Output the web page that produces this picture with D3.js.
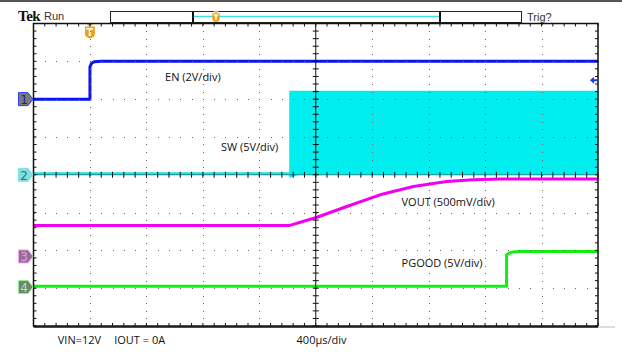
<!DOCTYPE html>
<html><head><meta charset="utf-8">
<script src="https://cdn.jsdelivr.net/npm/d3@7/dist/d3.min.js"></script>
<style>html,body{margin:0;padding:0;background:#fff;}svg{display:block;}</style>
</head><body>
<script>
// time in divisions (0..10), amplitude in divisions (-4..4)
const enTime = [0, 1.0, 1.0, 1.03, 1.08, 1.2, 10];
const enVal  = [2.0, 2.0, 2.85, 2.95, 2.99, 3.0, 3.0];
const swLowTime = [0, 4.53];
const swLowVal  = [0.03, 0.03];
const swBurstTime = [4.53, 4.7, 10];
const swBurstTop  = [2.22, 2.22, 2.22];
const swBurstBot  = [-0.08, 0, 0];
const voutTime = [0, 4.54, 5.01, 5.55, 6.14, 6.73, 7.32, 7.79, 8.27, 10];
const voutVal  = [-1.34, -1.34, -1.13, -0.84, -0.53, -0.31, -0.18, -0.13, -0.11, -0.11];
const pgTime = [0, 8.38, 8.38, 8.43, 8.5, 8.62, 10];
const pgVal  = [-2.95, -2.95, -2.12, -2.07, -2.04, -2.03, -2.03];
const chLabels = ["1", "2", "3", "4"];
const chOffsets = [2.0, 0.0, -2.16, -2.97];
const traceLabels = ["EN (2V/div)", "SW (5V/div)", "VOUT (500mV/div)", "PGOOD (5V/div)"];
const traceLabelPos = [[2.33, 2.47], [3.32, 0.62], [6.52, -0.82], [6.52, -2.43]];
const footer = ["VIN=12V", "IOUT = 0A", "400\u00b5s/div"];
const footerX = [0.43, 1.43, 4.66];

const W = 622, H = 354;
const svg = d3.select("body").append("svg").attr("width", W).attr("height", H);
const x = d3.scaleLinear().domain([0, 10]).range([33.5, 598]);
const y = d3.scaleLinear().domain([-4, 4]).range([326, 23.5]);

// top bar
svg.append("rect").attr("x", 0).attr("y", 0).attr("width", W).attr("height", 2).attr("fill", "#555");
svg.append("text").attr("x", 18).attr("y", 21).attr("font-family", "Liberation Serif, serif")
  .attr("font-weight", "bold").attr("font-size", 15).attr("fill", "#111").attr("letter-spacing", "-0.5").text("Tek");
svg.append("text").attr("x", 44).attr("y", 20).attr("font-family", "Liberation Sans Narrow, Liberation Sans, sans-serif")
  .attr("font-size", 11).attr("fill", "#333").text("Run");
svg.append("text").attr("x", 527).attr("y", 21).attr("font-family", "Liberation Sans Narrow, Liberation Sans, sans-serif")
  .attr("font-size", 11).attr("fill", "#333").text("Trig?");
// record bar
svg.append("rect").attr("x", 110.5).attr("y", 11.5).attr("width", 411).attr("height", 11)
  .attr("fill", "#fff").attr("stroke", "#222").attr("stroke-width", 1);
svg.append("line").attr("x1", 193).attr("x2", 440).attr("y1", 16.5).attr("y2", 16.5).attr("stroke", "#3ee0e0").attr("stroke-width", 1.5);
[193, 440].forEach(px => svg.append("line").attr("x1", px).attr("x2", px).attr("y1", 11.5).attr("y2", 22.5).attr("stroke", "#111").attr("stroke-width", 2));

function tMarker(cx, top, s) {
  const g = svg.append("g").attr("transform", `translate(${cx},${top}) scale(${s})`);
  g.append("path").attr("d", "M-4,0 L4,0 L0,3 Z").attr("fill", "#f0a020");
  g.append("path").attr("d", "M-5,3 L5,3 L5,10 Q5,14 0,15 Q-5,14 -5,10 Z").attr("fill", "#f0a020");
  g.append("text").attr("x", 0).attr("y", 12.5).attr("text-anchor", "middle").attr("font-family", "DejaVu Sans, sans-serif")
    .attr("font-size", 10).attr("font-weight", "bold").attr("fill", "#fff").text("T");
}
tMarker(216, 11, 0.75);
tMarker(x(1.0), 23.5, 1);

// traces
const g = svg.append("g");
g.append("path").datum(d3.range(swBurstTime.length))
  .attr("d", d3.area().x(i => x(swBurstTime[i])).y0(i => y(swBurstBot[i])).y1(i => y(swBurstTop[i])))
  .attr("fill", "#00eeee");
const line = (tt, vv) => d3.line().x(i => x(tt[i])).y(i => y(vv[i]))(d3.range(tt.length));
g.append("path").attr("d", line(swLowTime, swLowVal)).attr("fill", "none").attr("stroke", "#20dede").attr("stroke-width", 2.5);
g.append("path").attr("d", line(voutTime, voutVal)).attr("fill", "none").attr("stroke", "#f000f0").attr("stroke-width", 3).attr("stroke-linejoin", "round");
g.append("path").attr("d", line(pgTime, pgVal)).attr("fill", "none").attr("stroke", "#10f010").attr("stroke-width", 3).attr("stroke-linejoin", "round");
g.append("path").attr("d", line(enTime, enVal)).attr("fill", "none").attr("stroke", "#0a14ee").attr("stroke-width", 3).attr("stroke-linejoin", "round");
// grid dots
const grid = svg.append("g").attr("fill", "#666");
const minor = d3.range(0, 10.001, 0.2);
const minorY = d3.range(-4, 4.001, 0.2);
d3.range(1, 10).filter(d => d !== 5).forEach(d => {
  minorY.forEach(v => grid.append("rect").attr("x", Math.round(x(d))).attr("y", Math.round(y(v))).attr("width", 1).attr("height", 1));
});
d3.range(-3, 4).filter(d => d !== 0).forEach(d => {
  minor.forEach(t => grid.append("rect").attr("x", Math.round(x(t))).attr("y", Math.round(y(d))).attr("width", 1).attr("height", 1));
});
// center cross with ticks
const ax = svg.append("g").attr("stroke", "#111").attr("stroke-width", 1);
ax.append("line").attr("x1", x(5)).attr("x2", x(5)).attr("y1", y(4)).attr("y2", y(-4));
ax.append("line").attr("x1", x(0)).attr("x2", x(10)).attr("y1", y(0)).attr("y2", y(0)).attr("stroke", "#0a8a8a");
minor.forEach(t => ax.append("line").attr("x1", x(t)).attr("x2", x(t)).attr("y1", y(0) - 3).attr("y2", y(0) + 3));
minorY.forEach(v => ax.append("line").attr("x1", x(5) - 3).attr("x2", x(5) + 3).attr("y1", y(v)).attr("y2", y(v)));
// border ticks
minor.forEach(t => {
  ax.append("line").attr("x1", x(t)).attr("x2", x(t)).attr("y1", y(4)).attr("y2", y(4) + 3);
  ax.append("line").attr("x1", x(t)).attr("x2", x(t)).attr("y1", y(-4)).attr("y2", y(-4) - 3);
});
minorY.forEach(v => {
  ax.append("line").attr("x1", x(0)).attr("x2", x(0) + 3).attr("y1", y(v)).attr("y2", y(v));
  ax.append("line").attr("x1", x(10)).attr("x2", x(10) - 3).attr("y1", y(v)).attr("y2", y(v));
});
// border
svg.append("rect").attr("x", x(0)).attr("y", y(4)).attr("width", x(10) - x(0)).attr("height", y(-4) - y(4))
  .attr("fill", "none").attr("stroke", "#111").attr("stroke-width", 1.5);
svg.append("line").attr("x1", x(0)).attr("x2", x(10)).attr("y1", y(-4) + 1).attr("y2", y(-4) + 1).attr("stroke", "#111").attr("stroke-width", 1.5);
svg.append("line").attr("x1", x(10)).attr("x2", 615).attr("y1", y(-4) + 1).attr("y2", y(-4) + 1).attr("stroke", "#bbb").attr("stroke-width", 1);

// trigger level arrow
svg.append("path").attr("d", `M${x(10) - 8},${y(2.5)} l4,-3.5 l0,2.5 l4,0 l0,2 l-4,0 l0,2.5 Z`).attr("fill", "#1a3af0");

// channel markers
const chFill = ["#7a7a7a", "#7fe0e0", "#9a6a9a", "#6a8a6a"];
const chStroke = ["#2a3aff", "#7fe0e0", "#f0a0f0", "#90f090"];
const chText = ["#222288", "#4a6a6a", "#d0b0d0", "#c0d8c0"];
chLabels.forEach((c, i) => {
  const cy = y(chOffsets[i]);
  svg.append("path").attr("d", `M18.5,${cy - 6.5} L28,${cy - 6.5} L33,${cy} L28,${cy + 6.5} L18.5,${cy + 6.5} Z`)
    .attr("fill", chFill[i]).attr("stroke", chStroke[i]).attr("stroke-width", 1);
  svg.append("text").attr("x", 24).attr("y", cy + 5).attr("text-anchor", "middle").attr("font-family", "DejaVu Sans, sans-serif")
    .attr("font-size", 12).attr("fill", chText[i]).text(c);
});

// labels
traceLabels.forEach((t, i) => {
  svg.append("text").attr("x", x(traceLabelPos[i][0])).attr("y", y(traceLabelPos[i][1]))
    .attr("font-family", "Open Sans, sans-serif").attr("font-size", 11).attr("fill", "#111").text(t);
});
footer.forEach((t, i) => {
  svg.append("text").attr("x", x(footerX[i])).attr("y", 344)
    .attr("font-family", "Open Sans, sans-serif").attr("font-size", 11).attr("fill", "#111").text(t);
});
</script>
</body></html>
